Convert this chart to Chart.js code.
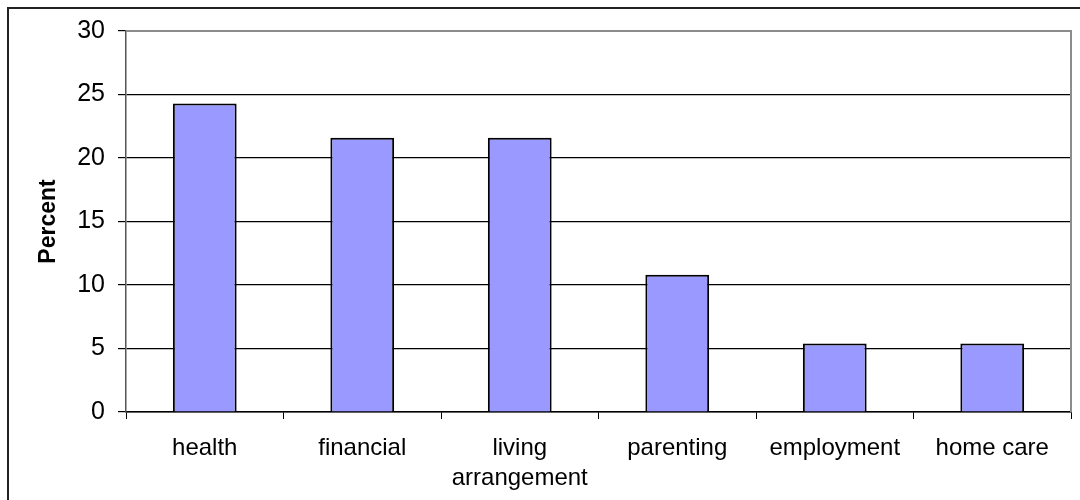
<!DOCTYPE html>
<html>
<head>
<meta charset="utf-8">
<script src="https://cdn.jsdelivr.net/npm/chart.js@4.4.1/dist/chart.umd.min.js"></script>
<style>
  html, body { margin: 0; padding: 0; background: #fff; overflow: hidden; }
  #wrap { position: relative; width: 1080px; height: 500px; }
  #frame { position: absolute; left: 7px; top: 7px; width: 1200px; height: 600px; border: 2px solid #222; pointer-events: none; }
  canvas { position: absolute; left: 0; top: 0; }
</style>
</head>
<body>
<div id="wrap">
  <canvas id="chart" width="1080" height="500"></canvas>
  <div id="frame"></div>
</div>
<script>
const categories = ['health', 'financial', ['living', 'arrangement'], 'parenting', 'employment', 'home care'];
const percentValues = [24.3, 21.6, 21.6, 10.8, 5.4, 5.4];
const yTicks = [0, 5, 10, 15, 20, 25, 30];

// grey top and right edges of the plot area
const plotFrame = {
  id: 'plotFrame',
  afterDraw(chart) {
    const { ctx, chartArea } = chart;
    ctx.save();
    ctx.strokeStyle = '#8c8c8c';
    ctx.lineWidth = 2;
    ctx.beginPath();
    ctx.moveTo(chartArea.left, chartArea.top);
    ctx.lineTo(chartArea.right, chartArea.top);
    ctx.lineTo(chartArea.right, chartArea.bottom);
    ctx.stroke();
    ctx.restore();
  }
};

new Chart(document.getElementById('chart'), {
  type: 'bar',
  data: {
    labels: categories,
    datasets: [{
      label: 'Percent',
      data: percentValues,
      backgroundColor: '#9999ff',
      borderColor: '#000',
      borderWidth: 2,
      barPercentage: 0.81,
      categoryPercentage: 0.5
    }]
  },
  options: {
    responsive: false,
    animation: false,
    layout: { padding: { top: 31, right: 9, left: 0, bottom: 0 } },
    plugins: { legend: { display: false }, tooltip: { enabled: false } },
    scales: {
      x: {
        grid: { display: true, drawOnChartArea: false, drawTicks: true, tickLength: 7, color: '#000', offset: true },
        border: { color: '#000', width: 1.5 },
        ticks: { color: '#000', font: { family: 'Liberation Sans, Arial', size: 24, lineHeight: 1.25 }, padding: 14, maxRotation: 0, autoSkip: false },
        afterFit(scale) { scale.height = 88; }
      },
      y: {
        min: 0,
        max: 30,
        afterBuildTicks(scale) { scale.ticks = yTicks.map(v => ({ value: v })); },
        grid: { color: '#000', lineWidth: 1.2, tickLength: 8 },
        border: { color: '#555', width: 1.5 },
        ticks: { color: '#000', font: { family: 'Liberation Sans, Arial', size: 25 }, padding: 13 },
        title: { display: true, text: 'Percent', color: '#000', font: { family: 'Liberation Sans, Arial', size: 23, weight: 'bold' }, padding: { top: 35, bottom: 0 } },
        afterFit(scale) { scale.width = 126; }
      }
    }
  },
  plugins: [plotFrame]
});
</script>
</body>
</html>
